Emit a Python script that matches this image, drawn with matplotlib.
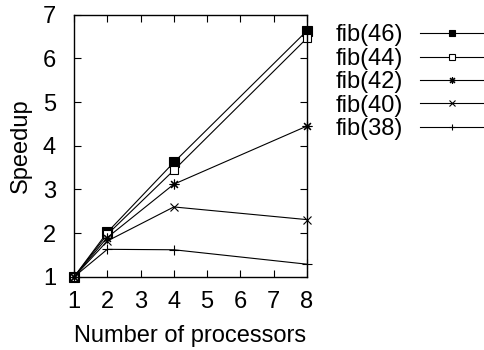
import matplotlib
matplotlib.use("Agg")
import matplotlib.pyplot as plt

plt.rcParams['font.family'] = ['Liberation Sans', 'DejaVu Sans']

procs = [1, 2, 4, 8]
fib46 = [1.0, 2.02, 3.62, 6.63]
fib44 = [1.0, 1.97, 3.44, 6.46]
fib42 = [1.0, 1.90, 3.12, 4.45]
fib40 = [1.0, 1.82, 2.60, 2.31]
fib38 = [1.0, 1.63, 1.62, 1.29]

labels = ['fib(46)', 'fib(44)', 'fib(42)', 'fib(40)', 'fib(38)']
series = [fib46, fib44, fib42, fib40, fib38]
markers = ['s', 's', (8, 2, 0), 'x', '+']
faces = ['black', 'white', 'black', 'black', 'black']
sizes = [7, 6, 7, 6, 7]

fig = plt.figure(figsize=(4.84, 3.5), dpi=100)
ax = fig.add_axes([0.153, 0.209, 0.481, 0.749])

for ys, lab, m, fc, ms in zip(series, labels, markers, faces, sizes):
    ax.plot(procs, ys, color='black', lw=0.8, marker=m, markersize=ms,
            markerfacecolor=fc, markeredgecolor='black', markeredgewidth=0.8,
            label=lab, clip_on=False)

ax.set_xlim(1, 8)
ax.set_ylim(1, 7)
ax.set_xticks(range(1, 9))
ax.set_yticks(range(1, 8))
ax.tick_params(direction='in', length=5, width=0.8, top=True, right=True,
               labelsize=17)
ax.tick_params(axis='y', pad=13)
ax.tick_params(axis='x', pad=10)
for s in ax.spines.values():
    s.set_linewidth(1.0)

ax.set_xlabel('Number of processors', fontsize=17, labelpad=9)
ax.set_ylabel('Speedup', fontsize=17, labelpad=8)

leg = ax.legend(loc='upper left', bbox_to_anchor=(0.694, 0.93), bbox_transform=fig.transFigure,
                frameon=False, markerfirst=False, fontsize=17, handlelength=2.75,
                handletextpad=0.7, labelspacing=0.06, borderaxespad=0, borderpad=0)
for h in leg.legend_handles:
    h.set_markersize(5)

fig.savefig('out.png', dpi=100)
